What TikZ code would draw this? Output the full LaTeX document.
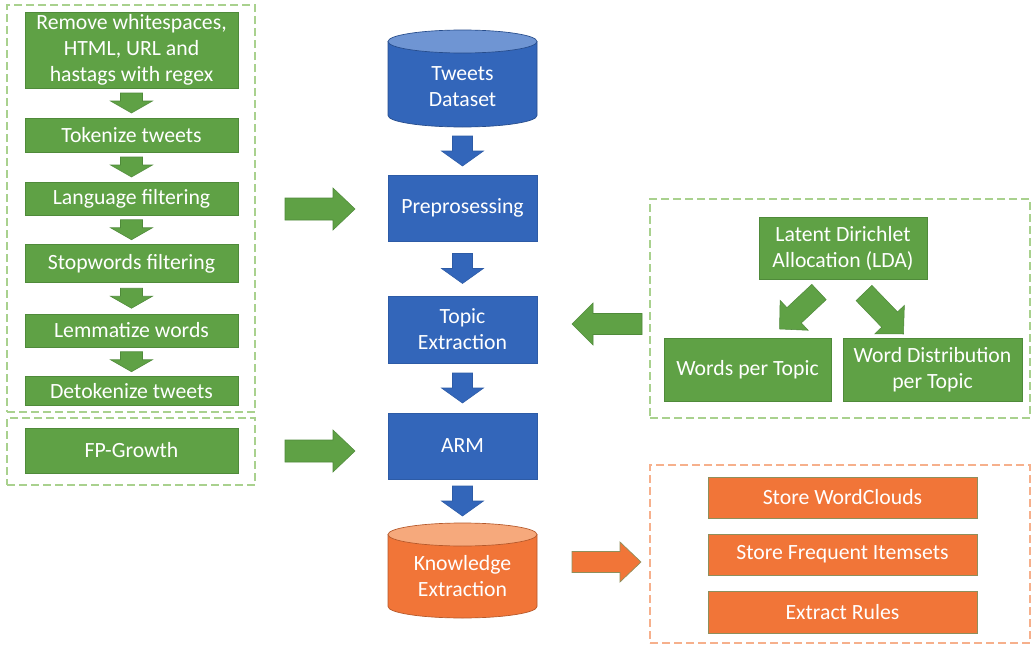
\documentclass[tikz,border=0pt]{standalone}
\usepackage{fontspec}
\setmainfont{Carlito}
\usetikzlibrary{calc}

\definecolor{leaf}{HTML}{5FA145}
\definecolor{leafline}{HTML}{4F8A3A}
\definecolor{leafdash}{HTML}{A9D18E}
\definecolor{ocean}{HTML}{3366BA}
\definecolor{oceanline}{HTML}{2D5BA6}
\definecolor{oceantop}{HTML}{6F95D3}
\definecolor{ember}{HTML}{F17538}
\definecolor{emberline}{HTML}{8E8F5C}
\definecolor{embertop}{HTML}{F6A97C}
\definecolor{emberdash}{HTML}{F6B08C}

% one drawing unit = one pixel of the 1033x646 canvas
\newcommand\px[1]{#1*0.75pt}

% filled block arrow from a tail point to a tip point
% #1 style, #2 tail, #3 tip, #4 shaft width, #5 head width, #6 head length (px)
\newcommand\blockarrow[6]{%
  \path let \p1=(#2), \p2=(#3) in
    \pgfextra{%
      \pgfmathsetmacro\baang{atan2((\y2)-(\y1),(\x2)-(\x1))}%
      \pgfmathsetmacro\balen{veclen((\x2)-(\x1),(\y2)-(\y1))}%
      \global\let\baang\baang
      \global\let\balen\balen};
  \filldraw[#1, shift={(#2)}, rotate=\baang]
    (0pt,{#4*0.375pt}) -- ({\balen pt-#6*0.75pt},{#4*0.375pt})
    -- ({\balen pt-#6*0.75pt},{#5*0.375pt}) -- (\balen pt,0pt)
    -- ({\balen pt-#6*0.75pt},{-#5*0.375pt}) -- ({\balen pt-#6*0.75pt},{-#4*0.375pt})
    -- (0pt,{-#4*0.375pt}) -- cycle;
}

% downward block arrow centred in the gap between two stacked nodes
% #1 style, #2 upper node, #3 lower node, #4 half length, #5 shaft, #6 head width, #7 head length
\newcommand\gaparrow[7]{%
  \blockarrow{#1}{$(#2.south)!0.5!(#3.north)+(0,-#4)$}{$(#2.south)!0.5!(#3.north)+(0,#4)$}{#5}{#6}{#7}}

% database drum drawn around an empty node
\newcommand\drum[3]{%
  \filldraw[fill=#2, draw=#2!75!black, line width=0.5pt]
    ($(#1.north west)+(0,11.5)$) -- ($(#1.south west)+(0,-11.5)$)
    arc[start angle=180, end angle=360, x radius=\px{74.5}, y radius=\px{11.5}]
    -- ($(#1.north east)+(0,11.5)$) -- cycle;
  \filldraw[fill=#3, draw=#2!75!black, line width=0.5pt]
    ($(#1.north)+(0,11.5)$) ellipse[x radius=\px{74.5}, y radius=\px{11.5}];
}

\tikzset{
  every node/.style={inner sep=0pt, outer sep=0pt},
  sz/.style 2 args={minimum width=#1*0.75pt, minimum height=#2*0.75pt},
  label text/.style={text=white, align=center, font=\fontsize{16.3}{19.5}\selectfont},
  gbox/.style={label text, fill=leaf, draw=leafline, line width=0.5pt},
  bbox/.style={label text, fill=ocean, draw=oceanline, line width=0.5pt},
  obox/.style={label text, fill=ember, draw=emberline, line width=0.5pt},
  dashframe/.style={draw=#1, line width=1.1pt, dash pattern=on 6pt off 3pt},
  garrow/.style={fill=leaf, draw=leafline, line width=0.4pt},
  barrow/.style={fill=ocean, draw=oceanline, line width=0.4pt},
  oarrow/.style={fill=ember, draw=emberline, line width=0.5pt},
}

\begin{document}
\begin{tikzpicture}[x=0.75pt, y=-0.75pt]
\useasboundingbox (0,0) rectangle (1033,646);
\fill[white] (0,0) rectangle (1033,646);

% ---- preprocessing steps (left column)
\node[dashframe=leafdash, sz={248}{407}] (pre) at (131,208.5) {};
\node[dashframe=leafdash, sz={248}{67}] (fpf) at (131,451.5) {};

\node[gbox, sz={213}{76}] (rm) at (131.5,50) {Remove whitespaces,\\HTML, URL and\\hastags with regex};
\node[gbox, sz={213}{34}] (tok) at (131.5,135) {Tokenize tweets};
\node[gbox, sz={213}{33}] (lang) at (131.5,198.5) {Language filtering};
\node[gbox, sz={213}{38}] (stop) at (131.5,263.5) {Stopwords filtering};
\node[gbox, sz={213}{33}] (lem) at (131.5,330.5) {Lemmatize words};
\node[gbox, sz={213}{29}] (detok) at (131.5,391) {Detokenize tweets};
\node[gbox, sz={213}{45}] (fpg) at (131.5,450.5) {FP-Growth};

\gaparrow{garrow}{rm}{tok}{10}{22}{42}{12}
\gaparrow{garrow}{tok}{lang}{10}{22}{42}{12}
\gaparrow{garrow}{lang}{stop}{10}{22}{42}{12}
\gaparrow{garrow}{stop}{lem}{10}{22}{42}{12}
\gaparrow{garrow}{lem}{detok}{10}{22}{42}{12}

% ---- main pipeline (centre column)
\node[sz={149}{97}] (tw) at (462.5,78.5) {};
\drum{tw}{ocean}{oceantop}
\node[label text] (twt) at ($(tw.center)+(0,8)$) {Tweets\\Dataset};

\node[bbox, sz={149}{66}] (prep) at (462.5,208) {Preprosessing};
\node[bbox, sz={149}{67}] (topic) at (462.5,329.5) {Topic\\Extraction};
\node[bbox, sz={149}{66}] (arm) at (462.5,446) {ARM};

\node[sz={149}{95}] (kn) at (462.5,570.5) {};
\drum{kn}{ember}{embertop}
\node[label text] (knt) at ($(kn.center)+(0,6)$) {Knowledge\\Extraction};

\gaparrow{barrow}{tw}{prep}{15}{20}{42}{15}
\gaparrow{barrow}{prep}{topic}{15}{20}{42}{15}
\gaparrow{barrow}{topic}{arm}{15}{20}{42}{15}
\gaparrow{barrow}{arm}{kn}{15}{20}{42}{15}

\blockarrow{garrow}{$(prep.west)+(-103,1)$}{$(prep.west)+(-33,1)$}{22}{42}{22}
\blockarrow{garrow}{$(arm.west)+(-103,5)$}{$(arm.west)+(-33,5)$}{22}{42}{22}

% ---- topic modelling (right, top)
\node[dashframe=leafdash, sz={380}{219}] (ldaf) at (840,308.5) {};
\node[gbox, sz={168}{62}] (lda) at (843,248) {Latent Dirichlet\\Allocation (LDA)};
\node[gbox, sz={167}{63}] (wpt) at (747.5,369.5) {Words per Topic};
\node[gbox, sz={179}{63}] (wdt) at (932.5,369.5) {Word Distribution\\per Topic};

\blockarrow{garrow}{$(lda.south)+(-24,13)$}{$(wpt.north)+(32,-9)$}{21}{41}{20}
\blockarrow{garrow}{$(lda.south)+(21,14)$}{$(wdt.north)+(-29,-4)$}{22}{41}{20}
\blockarrow{garrow}{$(topic.east)+(105,-5.5)$}{$(topic.east)+(35,-5.5)$}{21}{42}{21}

% ---- outputs (right, bottom)
\node[dashframe=emberdash, sz={380}{178}] (outf) at (840,554) {};
\node[obox, sz={269}{41}] (swc) at (842.5,497.5) {Store WordClouds};
\node[obox, sz={269}{41}] (sfi) at (842.5,554.5) {Store Frequent Itemsets};
\node[obox, sz={269}{42}] (exr) at (842.5,612) {Extract Rules};

\blockarrow{oarrow}{$(kn.east)+(35,-8.5)$}{$(kn.east)+(104,-8.5)$}{21}{40}{21}
\end{tikzpicture}
\end{document}
